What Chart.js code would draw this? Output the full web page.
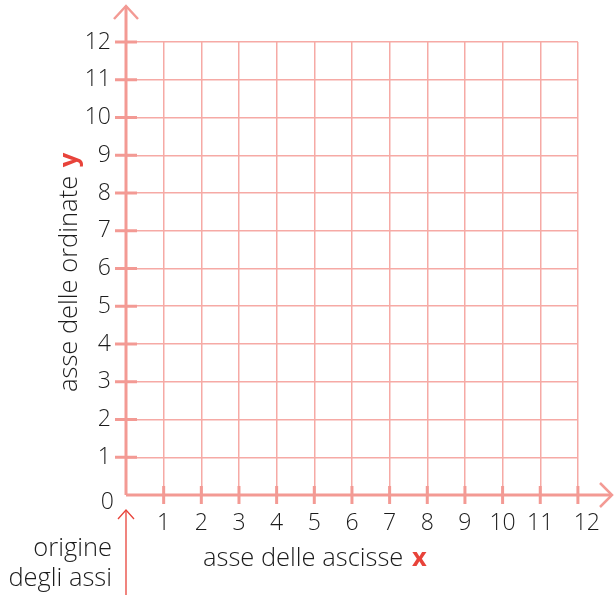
<!DOCTYPE html>
<html>
<head>
<meta charset="utf-8">
<script src="https://cdn.jsdelivr.net/npm/chart.js@4"></script>
<style>
  html, body { margin: 0; padding: 0; background: #fff; }
  #wrap { width: 615px; height: 595px; }
</style>
</head>
<body>
<div id="wrap"><canvas id="grid"></canvas></div>
<script>
// axis values
const xTicks = [0, 1, 2, 3, 4, 5, 6, 7, 8, 9, 10, 11, 12];
const yTicks = [0, 1, 2, 3, 4, 5, 6, 7, 8, 9, 10, 11, 12];
const xRange = [0, 12];
const yRange = [0, 12];

// texts
const yTitle = "asse delle ordinate ";
const yLetter = "y";
const xTitle = "asse delle ascisse ";
const xLetter = "x";
const originLines = ["origine", "degli assi"];

const gridColor = "#f6aaa5";
const axisColor = "#f39a94";
const redColor = "#e8433a";
const textColor = "#1c1c1c";
const fontFamily = "'Open Sans', Lato, sans-serif";
const textFont = "300 25.5px " + fontFamily;
const boldFont = "bold 25.5px " + fontFamily;

// axes, arrows, tick marks and titles
const axesPlugin = {
    id: "axesPlugin",
    afterDraw(chart) {
        const ctx = chart.ctx;
        const xs = chart.scales.x;
        const ys = chart.scales.y;
        const x0 = xs.getPixelForValue(0);
        const y0 = ys.getPixelForValue(0);

        ctx.save();
        ctx.strokeStyle = axisColor;
        ctx.lineWidth = 3;
        ctx.lineCap = "butt";

        // y axis with arrow
        ctx.beginPath();
        ctx.moveTo(x0, y0);
        ctx.lineTo(x0, 6);
        ctx.stroke();
        ctx.lineWidth = 2.5;
        ctx.beginPath();
        ctx.moveTo(x0 - 12, 19);
        ctx.lineTo(x0, 6);
        ctx.lineTo(x0 + 12, 19);
        ctx.stroke();

        // x axis with arrow
        ctx.lineWidth = 3;
        ctx.beginPath();
        ctx.moveTo(x0, y0);
        ctx.lineTo(612, y0);
        ctx.stroke();
        ctx.lineWidth = 2.5;
        ctx.beginPath();
        ctx.moveTo(600, y0 - 12);
        ctx.lineTo(612, y0);
        ctx.lineTo(600, y0 + 12);
        ctx.stroke();

        // tick marks across the axes
        ctx.lineWidth = 3;
        yTicks.forEach(v => {
            if (v === 0) return;
            const py = ys.getPixelForValue(v);
            ctx.beginPath();
            ctx.moveTo(x0 - 11, py);
            ctx.lineTo(x0 + 11, py);
            ctx.stroke();
        });
        xTicks.forEach(v => {
            if (v === 0) return;
            const px = xs.getPixelForValue(v);
            ctx.beginPath();
            ctx.moveTo(px, y0 - 9);
            ctx.lineTo(px, y0 + 9);
            ctx.stroke();
        });

        // origin arrow
        ctx.strokeStyle = redColor;
        ctx.lineWidth = 1.3;
        ctx.beginPath();
        ctx.moveTo(x0, 595);
        ctx.lineTo(x0, 510);
        ctx.stroke();
        ctx.beginPath();
        ctx.moveTo(x0 - 8, 519);
        ctx.lineTo(x0, 510);
        ctx.lineTo(x0 + 8, 519);
        ctx.stroke();

        // zero label, shared by both axes
        ctx.fillStyle = textColor;
        ctx.font = "300 23px " + fontFamily;
        ctx.textAlign = "right";
        ctx.textBaseline = "middle";
        ctx.fillText("0", 114, y0 + 7);

        // origin text
        ctx.font = textFont;
        ctx.fillText(originLines[0], 112, 549);
        ctx.fillText(originLines[1], 112, 579);

        // x title
        ctx.textAlign = "left";
        ctx.fillText(xTitle, 203, 559);
        const w1 = ctx.measureText(xTitle).width;
        ctx.font = boldFont;
        ctx.fillStyle = redColor;
        ctx.fillText(xLetter, 203 + w1 + 2, 559);

        // y title (rotated)
        ctx.translate(70, 392);
        ctx.rotate(-Math.PI / 2);
        ctx.font = textFont;
        ctx.fillStyle = textColor;
        ctx.fillText(yTitle, 0, 0);
        const w2 = ctx.measureText(yTitle).width;
        ctx.font = boldFont;
        ctx.fillStyle = redColor;
        ctx.fillText(yLetter, w2 + 2, 0);
        ctx.restore();
    }
};

const ctx = document.getElementById("grid").getContext("2d");
new Chart(ctx, {
    type: "scatter",
    data: { datasets: [{ data: [], showLine: false }] },
    options: {
        responsive: true,
        maintainAspectRatio: false,
        animation: false,
        layout: { padding: { top: 42, right: 35, left: 0, bottom: 0 } },
        plugins: { legend: { display: false }, tooltip: { enabled: false } },
        scales: {
            x: {
                type: "linear",
                min: xRange[0],
                max: xRange[1],
                afterFit: scale => { scale.height = 100; },
                afterBuildTicks: scale => { scale.ticks = xTicks.map(v => ({ value: v })); },
                border: { display: false },
                grid: { color: gridColor, lineWidth: 1.5, drawTicks: false },
                ticks: {
                    padding: 15,
                    autoSkip: false,
                    maxRotation: 0,
                    minRotation: 0,
                    color: textColor,
                    font: { family: fontFamily, size: 23, weight: 300 },
                    callback: v => (v === 0 ? "" : v === 12 ? "   12" : v)
                }
            },
            y: {
                type: "linear",
                min: yRange[0],
                max: yRange[1],
                afterFit: scale => { scale.width = 126; },
                afterBuildTicks: scale => { scale.ticks = yTicks.map(v => ({ value: v })); },
                border: { display: false },
                grid: { color: gridColor, lineWidth: 1.5, drawTicks: false },
                ticks: {
                    padding: 15,
                    autoSkip: false,
                    color: textColor,
                    font: { family: fontFamily, size: 23, weight: 300 },
                    callback: v => (v === 0 ? "" : v)
                }
            }
        }
    },
    plugins: [axesPlugin]
});
</script>
</body>
</html>
